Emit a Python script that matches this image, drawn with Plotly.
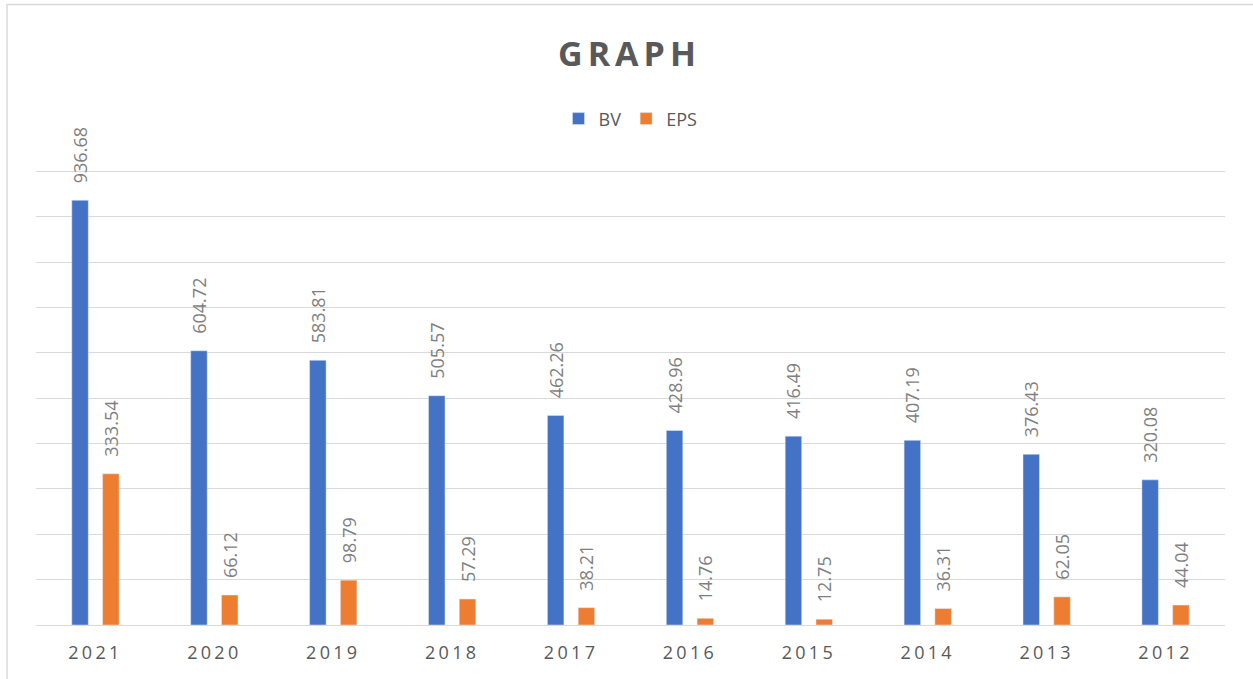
import plotly.graph_objects as go

years = ["2021", "2020", "2019", "2018", "2017", "2016", "2015", "2014", "2013", "2012"]
bv = [936.68, 604.72, 583.81, 505.57, 462.26, 428.96, 416.49, 407.19, 376.43, 320.08]
eps = [333.54, 66.12, 98.79, 57.29, 38.21, 14.76, 12.75, 36.31, 62.05, 44.04]

FONT = "Open Sans"
GREY_TXT = "#595959"
LBL_TXT = "#7f7f7f"
GRID = "#d9d9d9"
PAD = "\u00a0" * 3

def labels(vals):
    return [PAD + f"{v:.2f}" for v in vals]

fig = go.Figure()
fig.add_trace(go.Bar(
    name="BV", x=years, y=bv, marker_color="#4472C4",
    text=labels(bv), textposition="outside", textangle=-90,
    constraintext="none", cliponaxis=False,
    textfont=dict(family=FONT, size=18, color=LBL_TXT),
))
fig.add_trace(go.Bar(
    name="EPS", x=years, y=eps, marker_color="#ED7D31",
    text=labels(eps), textposition="outside", textangle=-90,
    constraintext="none", cliponaxis=False,
    textfont=dict(family=FONT, size=18, color=LBL_TXT),
))

fig.update_layout(
    width=1253, height=679,
    margin=dict(l=36, r=28, t=167, b=54),
    paper_bgcolor="white", plot_bgcolor="white",
    barmode="group", bargap=0.482, bargroupgap=0.464,
    title=dict(text="<b>GRAPH</b>", x=0.5024, xanchor="center", y=0.92, yanchor="middle",
               font=dict(family=FONT, size=34, color=GREY_TXT)),
    legend=dict(orientation="h", x=0.5, xanchor="center", y=1.105, yanchor="middle",
                font=dict(family=FONT, size=18, color=GREY_TXT), bgcolor="rgba(0,0,0,0)"),
    xaxis=dict(showline=True, linecolor=GRID, linewidth=1, ticks="",
               tickfont=dict(family=FONT, size=18, color=GREY_TXT),
               ticklabelstandoff=11),
    yaxis=dict(range=[0, 1010], dtick=100, showgrid=True, gridcolor=GRID, gridwidth=1,
               showticklabels=False, zeroline=False, ticks=""),
    shapes=[dict(type="rect", xref="paper", yref="paper", x0=-0.0244, x1=1.06,
                 y0=-0.2, y1=1.355, line=dict(color=GRID, width=1.5), layer="below")],
)

post = """
document.body.style.margin='0';
document.querySelectorAll('.xtick text').forEach(function(t){t.setAttribute('letter-spacing','3.3px');});
document.querySelectorAll('.gtitle').forEach(function(t){t.setAttribute('letter-spacing','5px');});
"""
fig.write_html("out.html", post_script=post, config={"displayModeBar": False})
